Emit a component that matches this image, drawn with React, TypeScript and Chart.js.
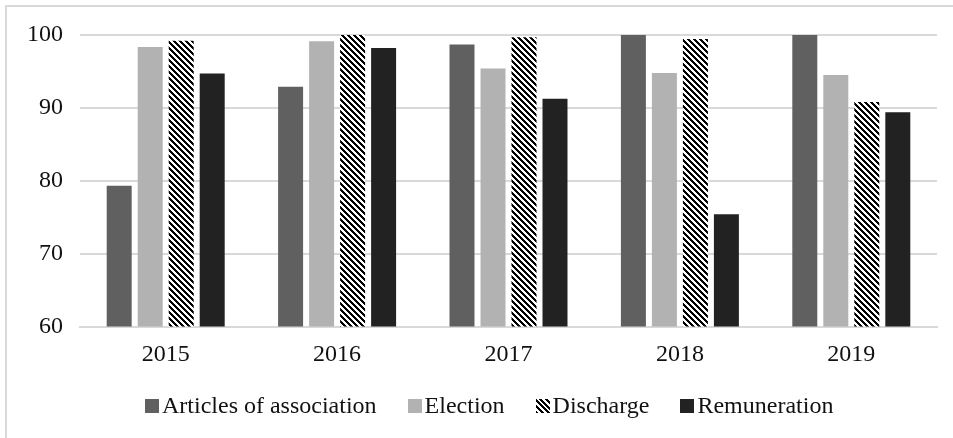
import React, { useEffect, useRef } from "react";
import { Chart, registerables } from "chart.js";

Chart.register(...registerables);

const categories = ["2015", "2016", "2017", "2018", "2019"];
const seriesNames = ["Articles of association", "Election", "Discharge", "Remuneration"];
const articles = [79.3, 92.9, 98.7, 100, 100];
const election = [98.35, 99.15, 95.4, 94.8, 94.5];
const discharge = [99.2, 100, 99.7, 99.45, 90.8];
const remuneration = [94.7, 98.2, 91.25, 75.4, 89.4];
const yTicks = [60, 70, 80, 90, 100];

const FONT = '"Liberation Serif", "Times New Roman", serif';

function makeStripePattern(): CanvasPattern | string {
  const c = document.createElement("canvas");
  const p = 6;
  c.width = p;
  c.height = p;
  const ctx = c.getContext("2d");
  if (!ctx) return "#000";
  ctx.fillStyle = "#fff";
  ctx.fillRect(0, 0, p, p);
  ctx.fillStyle = "#000";
  for (let y = 0; y < p; y++) {
    for (let x = 0; x < p; x++) {
      if ((((x - y) % p) + p) % p < 3) ctx.fillRect(x, y, 1, 1);
    }
  }
  const pat = ctx.createPattern(c, "repeat");
  return pat || "#000";
}

const swatchStyles: React.CSSProperties[] = [
  { background: "#606060" },
  { background: "#b2b2b2" },
  { background: "repeating-linear-gradient(45deg, #000 0px, #000 2px, #fff 2px, #fff 4px)" },
  { background: "#222222" },
];

export default function App() {
  const ref = useRef<HTMLCanvasElement | null>(null);

  useEffect(() => {
    document.body.style.margin = "0";
    const canvas = ref.current;
    if (!canvas) return;
    const stripe = makeStripePattern();
    const chart = new Chart(canvas, {
      type: "bar",
      data: {
        labels: categories,
        datasets: [
          { label: seriesNames[0], data: articles, backgroundColor: "#606060" },
          { label: seriesNames[1], data: election, backgroundColor: "#b2b2b2" },
          { label: seriesNames[2], data: discharge, backgroundColor: stripe as any },
          { label: seriesNames[3], data: remuneration, backgroundColor: "#222222" },
        ],
      },
      options: {
        responsive: false,
        animation: false,
        events: [],
        layout: { padding: { top: 35, right: 16, bottom: 51.5, left: 0 } },
        datasets: {
          bar: { barPercentage: 0.806, categoryPercentage: 0.7235 },
        },
        plugins: {
          legend: { display: false },
          tooltip: { enabled: false },
          title: { display: false },
        },
        scales: {
          x: {
            grid: { display: false, drawTicks: false },
            border: { display: true, color: "#d9d9d9", width: 2 },
            ticks: { color: "#111", font: { family: FONT, size: 24 }, padding: 14 },
            afterFit: (s: any) => {
              s.height = 60;
            },
          },
          y: {
            min: 60,
            max: 100,
            afterBuildTicks: (s: any) => {
              s.ticks = yTicks.map((v) => ({ value: v }));
            },
            grid: { color: "#d9d9d9", lineWidth: 2, drawTicks: false },
            border: { display: false },
            ticks: { color: "#111", font: { family: FONT, size: 24 }, padding: 17 },
            afterFit: (s: any) => {
              s.width = 80;
            },
          },
        },
      },
    });
    return () => chart.destroy();
  }, []);

  return (
    <div
      style={{
        position: "relative",
        width: 953,
        height: 438,
        overflow: "hidden",
        background: "#fff",
      }}
    >
      <div
        style={{
          position: "absolute",
          left: 5,
          top: 5,
          width: 1000,
          height: 500,
          border: "2px solid #d9d9d9",
          boxSizing: "border-box",
        }}
      />
      <canvas
        ref={ref}
        width={953}
        height={438}
        style={{ position: "absolute", left: 0, top: 0, width: 953, height: 438 }}
      />
      <div
        style={{
          position: "absolute",
          left: 145,
          top: 393,
          display: "flex",
          alignItems: "baseline",
          fontFamily: FONT,
          fontSize: 24,
          lineHeight: "24px",
          color: "#111",
          whiteSpace: "nowrap",
        }}
      >
        {seriesNames.map((name, i) => (
          <span key={name} style={{ display: "inline-flex", alignItems: "baseline", marginRight: 31 }}>
            <span
              style={{
                display: "inline-block",
                width: 14,
                height: 14,
                marginRight: 3,
                ...swatchStyles[i],
              }}
            />
            {name}
          </span>
        ))}
      </div>
    </div>
  );
}
